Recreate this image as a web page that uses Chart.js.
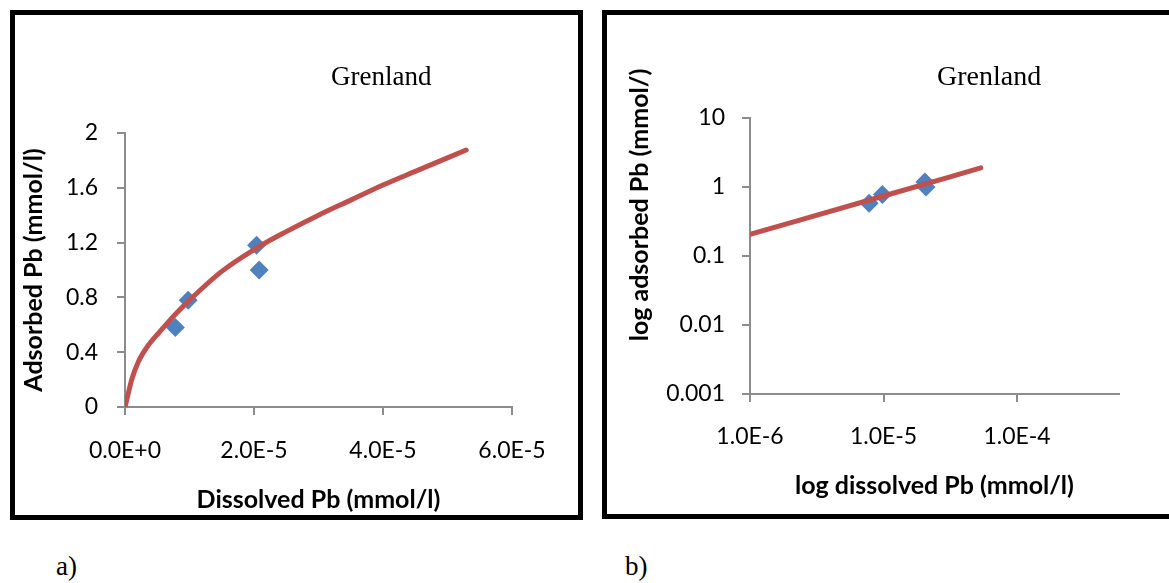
<!DOCTYPE html>
<html>
<head>
<meta charset="utf-8">
<script src="https://cdn.jsdelivr.net/npm/chart.js@4/dist/chart.umd.min.js"></script>
<style>
  body { margin: 0; background: #fff; width: 1169px; height: 583px; overflow: hidden; position: relative; }
  .panel { position: absolute; border: 5px solid #000; box-sizing: border-box; background: #fff; }
  #panelA { left: 10px; top: 10px; width: 573px; height: 510px; }
  #panelB { left: 602px; top: 10px; width: 578px; height: 509px; }
  .panel canvas { display: block; }
  .tag { position: absolute; font: 27px "Liberation Serif", "Times New Roman", serif; line-height: 27px; color: #000; }
</style>
</head>
<body>
<div class="panel" id="panelA"><canvas id="linChart" width="563" height="500"></canvas></div>
<div class="panel" id="panelB"><canvas id="logChart" width="568" height="499"></canvas></div>
<div class="tag" style="left:56px; top:553px;">a)</div>
<div class="tag" style="left:625px; top:553px;">b)</div>

<script>
// measured Pb sorption, Grenland soil
const dissolvedPb = [7.8e-6, 9.8e-6, 2.04e-5, 2.08e-5];
const adsorbedPb = [0.58, 0.78, 1.18, 1.0];

// fitted isotherm
const fitDissolved = [0, 0.26e-6, 1.04e-6, 2.07e-6, 3.6e-6, 5.2e-6, 6.7e-6, 8.3e-6, 1.0e-5, 1.5e-5, 2.04e-5, 2.5e-5, 3.0e-5, 3.5e-5, 4.0e-5, 4.5e-5, 5.29e-5];
const fitAdsorbed = [0, 0.05, 0.20, 0.33, 0.45, 0.54, 0.62, 0.70, 0.78, 0.99, 1.16, 1.28, 1.40, 1.51, 1.62, 1.72, 1.876];

// same fit on log-log axes
const logFitDissolved = [1e-6, 1e-5, 5.35e-5];
const logFitAdsorbed = [0.206, 0.74, 1.89];

// tick values
const linTicksX = [0, 2e-5, 4e-5, 6e-5];
const linTicksY = [0, 0.4, 0.8, 1.2, 1.6, 2];
const logTicksX = [1e-6, 1e-5, 1e-4];
const logTicksY = [0.001, 0.01, 0.1, 1, 10];

const axisGrey = '#8c8c8c';
const lineRed = '#C0504D';
const markBlue = '#4F81BD';
const tickFont = { family: 'Lato', size: 23 };
const titleFont = { family: 'Lato', size: 25, weight: 'bold' };

function toPairs(xs, ys) {
  return xs.map((x, i) => ({ x: x, y: ys[i] }));
}

function sciLabel(v) {
  return Number(v).toExponential(1).toUpperCase();
}

function fixTicks(values) {
  return function (scale) {
    scale.ticks = values.map(v => ({ value: v }));
  };
}

// pin the axis box so the plot area lands where we want it
function fixSize(prop, size) {
  return function (scale) {
    scale[prop] = size;
    scale.paddingLeft = 0;
    scale.paddingRight = 0;
    scale.paddingTop = 0;
    scale.paddingBottom = 0;
  };
}

// free text placed relative to the plot area
const panelText = {
  id: 'panelText',
  afterDraw(chart, args, opts) {
    const { ctx, chartArea } = chart;
    (opts.items || []).forEach(item => {
      ctx.save();
      ctx.font = item.font;
      ctx.fillStyle = '#000';
      ctx.textAlign = item.align || 'left';
      ctx.textBaseline = item.baseline || 'alphabetic';
      ctx.translate(chartArea.left + item.dx, chartArea.top + item.dy);
      if (item.rotate) ctx.rotate(item.rotate);
      ctx.fillText(item.text, 0, 0);
      ctx.restore();
    });
  }
};

function gridOpts() {
  return { drawOnChartArea: false, drawTicks: true, tickLength: 8, color: axisGrey, lineWidth: 2 };
}

function datasets(lineX, lineY) {
  return [
    {
      label: 'fit',
      data: toPairs(lineX, lineY),
      showLine: true,
      borderColor: lineRed,
      borderWidth: 5,
      borderCapStyle: 'round',
      pointRadius: 0,
      cubicInterpolationMode: 'monotone',
      fill: false
    },
    {
      label: 'measured',
      data: toPairs(dissolvedPb, adsorbedPb),
      showLine: false,
      pointStyle: 'rectRot',
      pointRadius: 9.5,
      backgroundColor: markBlue,
      borderColor: markBlue,
      borderWidth: 0
    }
  ];
}

new Chart(document.getElementById('linChart'), {
  type: 'scatter',
  data: { datasets: datasets(fitDissolved, fitAdsorbed) },
  options: {
    responsive: false,
    animation: false,
    layout: { padding: { top: 118, right: 66, left: 0, bottom: 0 } },
    plugins: {
      legend: { display: false },
      tooltip: { enabled: false },
      panelText: {
        items: [{ text: 'Grenland', font: '27px "Liberation Serif"', dx: 206, dy: -48 }]
      }
    },
    scales: {
      x: {
        type: 'linear',
        min: 0,
        max: 6e-5,
        afterBuildTicks: fixTicks(linTicksX),
        afterFit: fixSize('height', 108),
        grid: gridOpts(),
        border: { color: axisGrey, width: 2 },
        ticks: { color: '#000', font: tickFont, padding: 22, maxRotation: 0, callback: v => sciLabel(v) },
        title: { display: true, text: 'Dissolved Pb (mmol/l)', color: '#000', font: titleFont, padding: { top: 0, bottom: 0 } }
      },
      y: {
        type: 'linear',
        min: 0,
        max: 2,
        afterBuildTicks: fixTicks(linTicksY),
        afterFit: fixSize('width', 110),
        grid: gridOpts(),
        border: { color: axisGrey, width: 2 },
        ticks: { color: '#000', font: tickFont, padding: 19, callback: v => String(v) },
        title: { display: true, text: 'Adsorbed Pb (mmol/l)', color: '#000', font: titleFont, padding: { top: 4, bottom: 0 } }
      }
    }
  },
  plugins: [panelText]
});

new Chart(document.getElementById('logChart'), {
  type: 'scatter',
  data: { datasets: datasets(logFitDissolved, logFitAdsorbed) },
  options: {
    responsive: false,
    animation: false,
    layout: { padding: { top: 103, right: 56, left: 0, bottom: 0 } },
    plugins: {
      legend: { display: false },
      tooltip: { enabled: false },
      panelText: {
        items: [
          { text: 'Grenland', font: '28px "Liberation Serif"', dx: 187, dy: -33 },
          { text: 'log adsorbed Pb (mmol/)', font: 'bold 25px Lato', dx: -110, dy: 87, rotate: -Math.PI / 2, align: 'center', baseline: 'middle' }
        ]
      }
    },
    scales: {
      x: {
        type: 'logarithmic',
        min: 1e-6,
        max: 5.8e-4,
        afterBuildTicks: fixTicks(logTicksX),
        afterFit: fixSize('height', 120),
        grid: gridOpts(),
        border: { color: axisGrey, width: 2 },
        ticks: { color: '#000', font: tickFont, padding: 21, maxRotation: 0, autoSkip: false, callback: v => sciLabel(v) },
        title: { display: true, text: 'log dissolved Pb (mmol/l)', color: '#000', font: titleFont, padding: { top: 0, bottom: 13 } }
      },
      y: {
        type: 'logarithmic',
        min: 0.001,
        max: 10,
        afterBuildTicks: fixTicks(logTicksY),
        afterFit: fixSize('width', 143),
        grid: gridOpts(),
        border: { color: axisGrey, width: 2 },
        ticks: { color: '#000', font: tickFont, padding: 17, autoSkip: false, callback: v => String(v) },
        title: { display: false }
      }
    }
  },
  plugins: [panelText]
});
</script>
</body>
</html>
